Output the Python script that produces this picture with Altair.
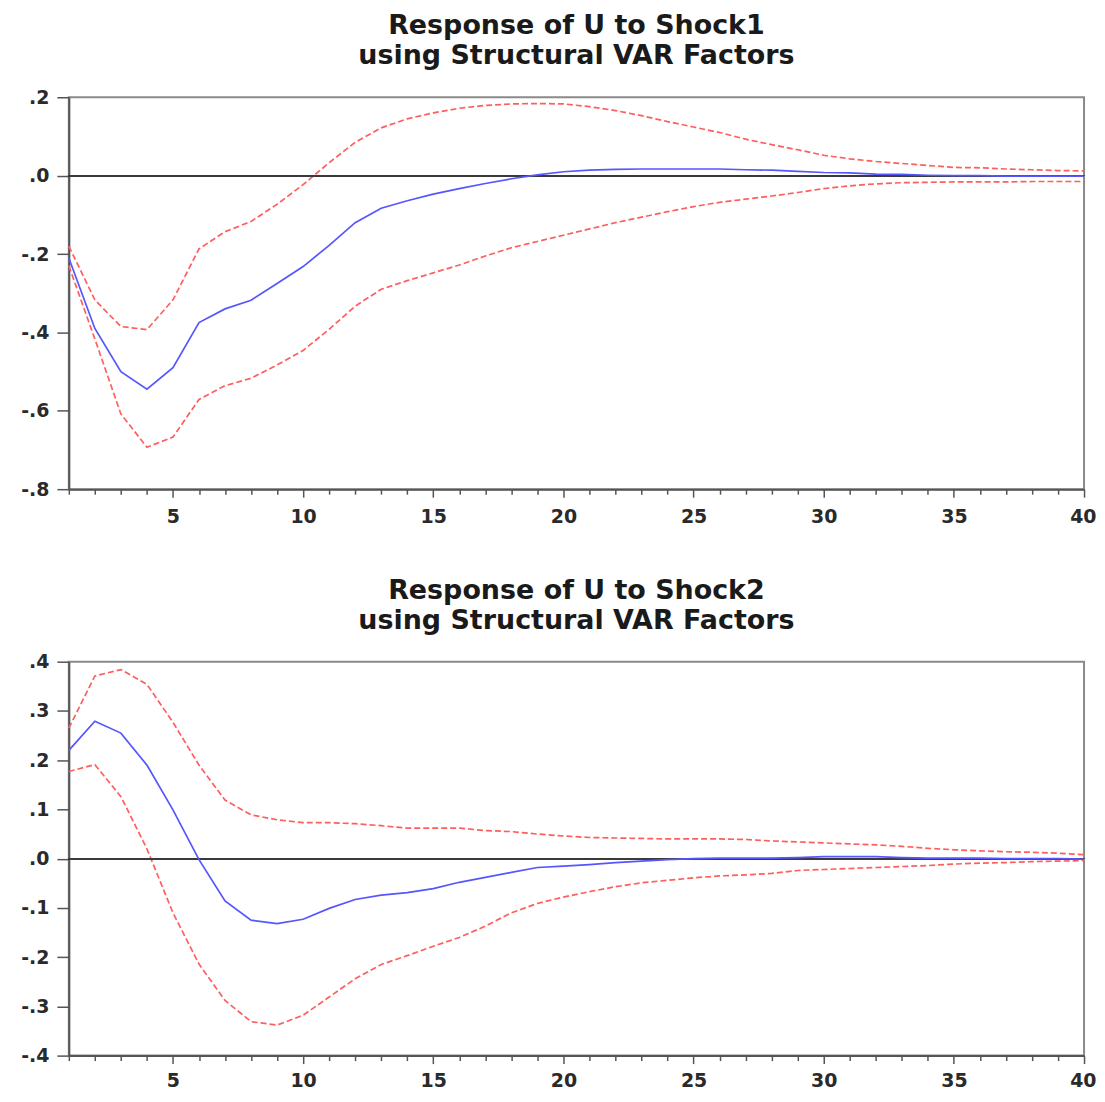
import altair as alt
import pandas as pd

periods = list(range(1, 41))

shock1_resp = [-0.21, -0.39, -0.50, -0.545, -0.49, -0.375, -0.34, -0.318, -0.275, -0.232,
               -0.178, -0.12, -0.083, -0.064, -0.047, -0.033, -0.02, -0.008, 0.002, 0.01,
               0.014, 0.016, 0.017, 0.017, 0.017, 0.017, 0.015, 0.014, 0.011, 0.008,
               0.007, 0.004, 0.003, 0.001, 0.0, 0.0, -0.001, -0.001, -0.001, -0.001]
shock1_upper = [-0.18, -0.317, -0.385, -0.393, -0.317, -0.187, -0.143, -0.117, -0.073, -0.023,
                0.033, 0.085, 0.122, 0.145, 0.16, 0.172, 0.179, 0.183, 0.184, 0.183,
                0.176, 0.166, 0.153, 0.138, 0.124, 0.11, 0.093, 0.079, 0.066, 0.052,
                0.043, 0.036, 0.031, 0.026, 0.021, 0.02, 0.017, 0.015, 0.013, 0.012]
shock1_lower = [-0.23, -0.417, -0.608, -0.693, -0.667, -0.571, -0.536, -0.517, -0.483, -0.446,
                -0.392, -0.333, -0.29, -0.268, -0.248, -0.228, -0.205, -0.184, -0.168, -0.152,
                -0.136, -0.12, -0.106, -0.092, -0.079, -0.068, -0.06, -0.052, -0.043, -0.033,
                -0.026, -0.021, -0.018, -0.017, -0.016, -0.016, -0.016, -0.015, -0.015, -0.015]

shock2_resp = [0.22, 0.279, 0.255, 0.19, 0.099, -0.002, -0.086, -0.125, -0.132, -0.123,
               -0.101, -0.083, -0.074, -0.069, -0.061, -0.048, -0.038, -0.028, -0.018, -0.015,
               -0.012, -0.008, -0.005, -0.002, 0.0, 0.001, 0.001, 0.001, 0.002, 0.004,
               0.004, 0.004, 0.002, 0.001, 0.001, 0.001, 0.0, 0.0, 0.0, -0.001]
shock2_upper = [0.265, 0.371, 0.384, 0.354, 0.277, 0.19, 0.119, 0.089, 0.079, 0.073,
                0.073, 0.071, 0.067, 0.062, 0.062, 0.062, 0.057, 0.055, 0.05, 0.046,
                0.043, 0.042, 0.041, 0.04, 0.04, 0.04, 0.039, 0.036, 0.034, 0.032,
                0.03, 0.028, 0.025, 0.021, 0.018, 0.016, 0.014, 0.013, 0.011, 0.008]
shock2_lower = [0.177, 0.191, 0.126, 0.02, -0.11, -0.214, -0.288, -0.331, -0.338, -0.318,
                -0.281, -0.244, -0.215, -0.197, -0.178, -0.16, -0.137, -0.11, -0.091, -0.078,
                -0.067, -0.057, -0.049, -0.044, -0.039, -0.035, -0.033, -0.03, -0.024, -0.022,
                -0.02, -0.018, -0.016, -0.014, -0.011, -0.009, -0.008, -0.006, -0.005, -0.004]

titles1 = ["Response of U to Shock1", "using Structural VAR Factors"]
titles2 = ["Response of U to Shock2", "using Structural VAR Factors"]
yticks1 = [0.2, 0.0, -0.2, -0.4, -0.6, -0.8]
yticks2 = [0.4, 0.3, 0.2, 0.1, 0.0, -0.1, -0.2, -0.3, -0.4]

FONT = "DejaVu Sans"
BLUE = "#5656ff"
RED = "#ff5e5e"

ylab = "(datum.value < -0.0001 ? '-' : '') + '.' + format(round(abs(datum.value) * 10), '.0f')"
xlab = "datum.value % 5 == 0 ? datum.value : ''"


def panel(resp, lower, upper, title, ydom, yticks, height, xpad):
    df = pd.DataFrame({"period": periods, "resp": resp, "lower": lower, "upper": upper})
    base = alt.Chart(df)
    xenc = alt.X("period:Q", scale=alt.Scale(domain=[1, 40], nice=False, zero=False),
                 axis=alt.Axis(values=periods, labelExpr=xlab, title=None, grid=False,
                               tickSize={"condition": {"test": "datum.value % 5 === 0", "value": 8}, "value": 5},
                               labelPadding=xpad, labelFlush=True, labelFlushOffset=12,
                               labelOverlap=False, minExtent=40, maxExtent=40))
    ysc = alt.Scale(domain=ydom, nice=False, zero=False)
    yax = alt.Axis(values=yticks, labelExpr=ylab, title=None, grid=False, tickSize=12,
                   labelPadding=8, minExtent=60, maxExtent=60)
    zero = base.mark_rule(color="#3a3a3a", strokeWidth=1.5).encode(y=alt.datum(0))
    up = base.mark_line(color=RED, strokeDash=[6, 3], strokeWidth=1.7).encode(
        x=xenc, y=alt.Y("upper:Q", scale=ysc, axis=yax))
    lo = base.mark_line(color=RED, strokeDash=[6, 3], strokeWidth=1.7).encode(x=xenc, y="lower:Q")
    mid = base.mark_line(color=BLUE, strokeWidth=1.7).encode(x=xenc, y="resp:Q")
    return alt.layer(up, lo, zero, mid).properties(
        width=1018, height=height,
        title=alt.TitleParams(title, font=FONT, fontSize=27, fontWeight="bold",
                              color="#1a1a1a", lineHeight=30, offset=18, anchor="middle"))


top = panel(shock1_resp, shock1_lower, shock1_upper, titles1, [-0.8, 0.2], yticks1, 393, 10)
bot = panel(shock2_resp, shock2_lower, shock2_upper, titles2, [-0.4, 0.4], yticks2, 395, 8)

chart = alt.vconcat(top, bot, spacing=46).properties(
    padding={"left": 0, "top": 2, "right": 0, "bottom": 0}
).configure_view(stroke="#8a8a8a", strokeWidth=2).configure_axis(
    labelFont=FONT, labelFontSize=19, labelFontWeight="bold", labelColor="#2a2a2a",
    domainColor="#555555", domainWidth=2, tickColor="#555555", tickWidth=1.5
)

chart.save("out.html", embed_options={"renderer": "svg", "actions": False})
